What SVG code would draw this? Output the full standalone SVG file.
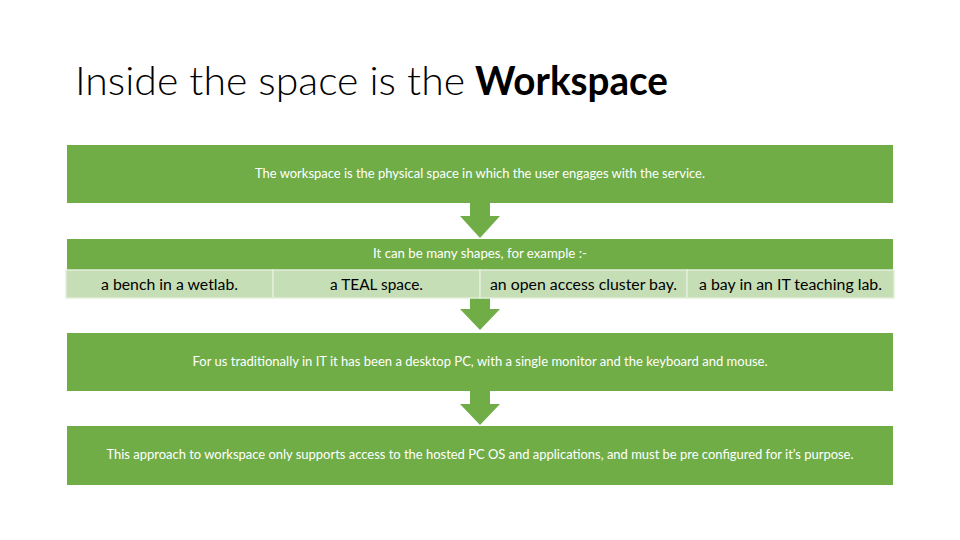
<svg xmlns="http://www.w3.org/2000/svg" width="960" height="540" viewBox="0 0 960 540">
<style>
.box{fill:#70AD47}
.cell{fill:#C5DEB5;stroke:#E2EEDA;stroke-width:1.5}
.arrow{fill:#70AD47}
.wt{font-family:Lato,"Open Sans",sans-serif;font-size:12.5px;fill:#FFFFFF;text-anchor:middle}
.ct{font-family:Lato,"Open Sans",sans-serif;font-size:14.5px;fill:#000000;text-anchor:middle}
.title{font-family:Lato,"Open Sans",sans-serif;font-size:40px;fill:#000000}
</style>
<rect width="960" height="540" fill="#FFFFFF"/>
<text class="title" x="75" y="95"><tspan font-weight="300" textLength="390" lengthAdjust="spacingAndGlyphs">Inside the space is the</tspan><tspan x="475" font-weight="700" textLength="193" lengthAdjust="spacingAndGlyphs">Workspace</tspan></text>
<g id="connectors">
<polygon class="arrow" points="470,203 490,203 490,216 500,216 480,238 460,216 470,216"/>
<polygon class="arrow" points="470,298 490,298 490,309 500,309 480,330 460,309 470,309"/>
<polygon class="arrow" points="470,391 490,391 490,404 500,404 480,425 460,404 470,404"/>
</g>
<g id="box1">
<rect class="box" x="67" y="145" width="826" height="58"/>
<text class="wt" x="480" y="178" textLength="450" lengthAdjust="spacingAndGlyphs">The workspace is the physical space in which the user engages with the service.</text>
</g>
<g id="box2">
<rect class="box" x="67" y="239" width="826" height="31"/>
<text class="wt" x="480" y="258" textLength="214" lengthAdjust="spacingAndGlyphs">It can be many shapes, for example :-</text>
</g>
<g id="cell1">
<rect class="cell" x="66" y="270" width="207" height="28"/>
<text class="ct" x="169.5" y="290" textLength="137" lengthAdjust="spacingAndGlyphs">a bench in a wetlab.</text>
</g>
<g id="cell2">
<rect class="cell" x="273" y="270" width="207" height="28"/>
<text class="ct" x="376.5" y="290" textLength="93" lengthAdjust="spacingAndGlyphs">a TEAL space.</text>
</g>
<g id="cell3">
<rect class="cell" x="480" y="270" width="207" height="28"/>
<text class="ct" x="583.5" y="290" textLength="187" lengthAdjust="spacingAndGlyphs">an open access cluster bay.</text>
</g>
<g id="cell4">
<rect class="cell" x="687" y="270" width="207" height="28"/>
<text class="ct" x="790.5" y="290" textLength="183" lengthAdjust="spacingAndGlyphs">a bay in an IT teaching lab.</text>
</g>
<g id="box3">
<rect class="box" x="67" y="333" width="826" height="58"/>
<text class="wt" x="480" y="366" textLength="575" lengthAdjust="spacingAndGlyphs">For us traditionally in IT it has been a desktop PC, with a single monitor and the keyboard and mouse.</text>
</g>
<g id="box4">
<rect class="box" x="67" y="426" width="826" height="59"/>
<text class="wt" x="480" y="459" textLength="747" lengthAdjust="spacingAndGlyphs">This approach to workspace only supports access to the hosted PC OS and applications, and must be pre configured for it’s purpose.</text>
</g>
</svg>
